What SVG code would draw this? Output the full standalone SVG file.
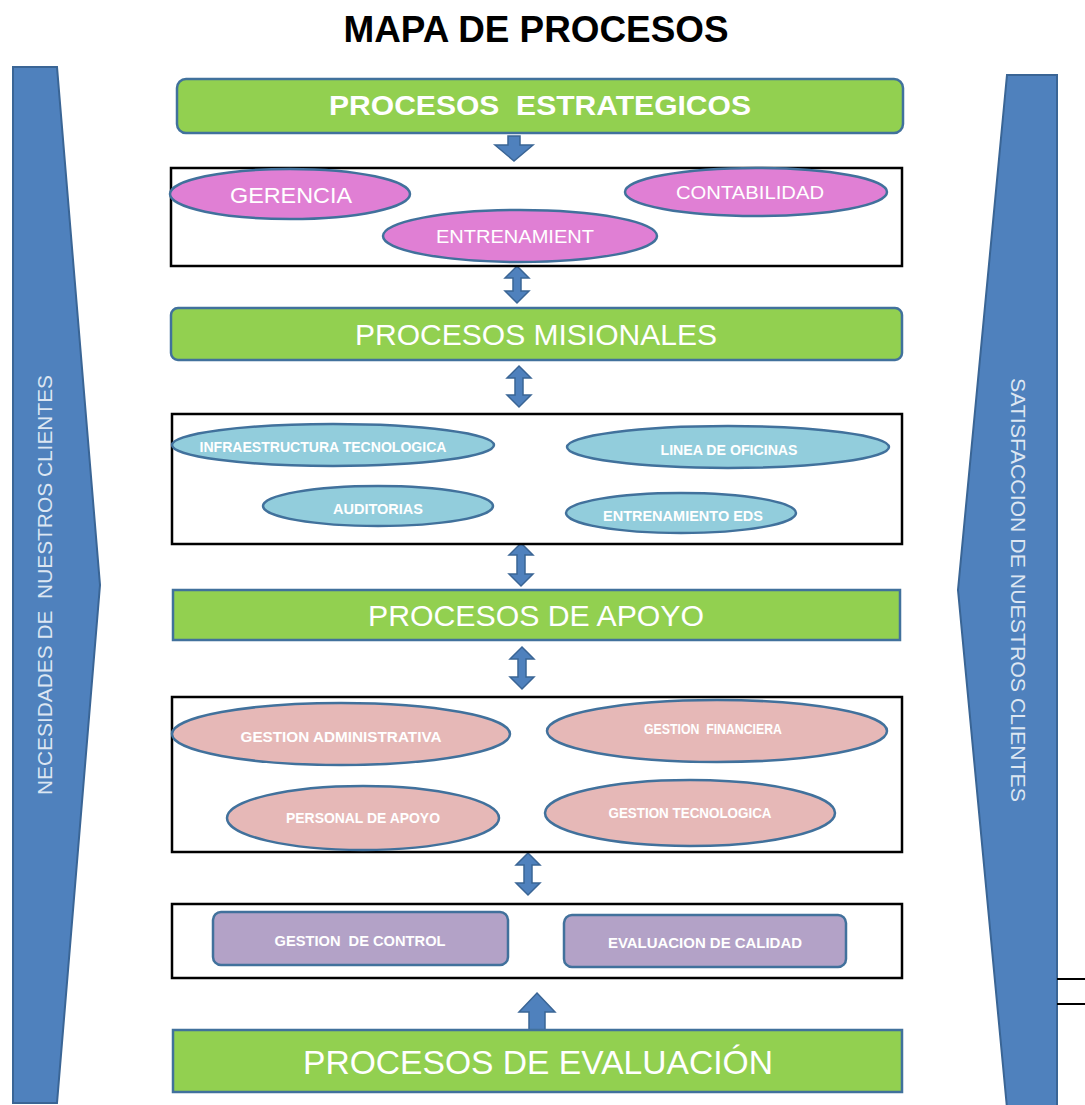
<svg xmlns="http://www.w3.org/2000/svg" width="1085" height="1105" viewBox="0 0 1085 1105">
<style>
.side{fill:#4f81bd;stroke:#3a6595;stroke-width:2}
.bar{fill:#92d050;stroke:#41719c;stroke-width:2.5}
.box{fill:#fff;stroke:#000;stroke-width:2.5}
.arr{fill:#4f81bd;stroke:#3a6595;stroke-width:1.5}
.pk{fill:#e07fd4;stroke:#41719c;stroke-width:2.5}
.bl{fill:#92cddc;stroke:#41719c;stroke-width:2.5}
.sa{fill:#e6b8b7;stroke:#41719c;stroke-width:2.5}
.pu{fill:#b3a2c7;stroke:#41719c;stroke-width:2.5}
text{white-space:pre}
.t{font-family:"Liberation Sans",Arial,sans-serif;fill:#fff;text-anchor:middle}
.n{font-family:"Liberation Sans",Arial,sans-serif;font-weight:bold;fill:#fff;text-anchor:middle;font-size:14px}
.st{font-family:"Liberation Sans",Arial,sans-serif;fill:#dce6f2;text-anchor:middle;font-size:21px}
</style>
<text x="536" y="42" font-family="Liberation Sans, Arial, sans-serif" font-weight="bold" font-size="37" text-anchor="middle" fill="#000" textLength="385" lengthAdjust="spacingAndGlyphs">MAPA DE PROCESOS</text>

<g id="left-side">
<polygon class="side" points="13,67 57,67 100,585 57,1103 13,1103"/>
<text class="st" transform="translate(45,585) rotate(-90)" y="7" textLength="420" lengthAdjust="spacingAndGlyphs" xml:space="preserve">NECESIDADES DE  NUESTROS CLIENTES</text>
</g>
<g id="right-side">
<polygon class="side" points="1007,75 1057,75 1057,1108 1007,1108 958,590"/>
<text class="st" transform="translate(1018,590) rotate(90)" y="7" textLength="424" lengthAdjust="spacingAndGlyphs">SATISFACCION DE NUESTROS CLIENTES</text>
</g>
<g id="right-lines">
<line x1="1057" y1="979" x2="1085" y2="979" stroke="#000" stroke-width="2"/>
<line x1="1057" y1="1004" x2="1085" y2="1004" stroke="#000" stroke-width="2"/>
</g>

<g id="connectors">
<path class="arr" d="M508,136 H520 V145 H533 L514,161 L495,145 H508 Z"/>
<path class="arr" d="M517,266 L529,278 H521 V291 H529 L517,303 L505,291 H513 V278 H505 Z"/>
<path class="arr" d="M519,366 L531,378 H523 V395 H531 L519,407 L507,395 H515 V378 H507 Z"/>
<path class="arr" d="M521,543 L533,555 H525 V574 H533 L521,586 L509,574 H517 V555 H509 Z"/>
<path class="arr" d="M522,647 L534,659 H526 V677 H534 L522,689 L510,677 H518 V659 H510 Z"/>
<path class="arr" d="M528,853 L540,865 H532 V883 H540 L528,895 L516,883 H524 V865 H516 Z"/>
<path class="arr" d="M537,993 L555,1012 H545 V1030 H529 V1012 H519 Z"/>
</g>

<g id="estrategicos">
<rect class="bar" x="177" y="79" width="726" height="54" rx="9"/>
<text class="t" x="540" y="115" font-size="28" font-weight="bold" textLength="422" lengthAdjust="spacingAndGlyphs" xml:space="preserve">PROCESOS  ESTRATEGICOS</text>
</g>
<g id="box-estrategicos">
<rect class="box" x="171" y="168" width="731" height="98"/>
</g>
<g id="gerencia"><ellipse class="pk" cx="290" cy="194" rx="120" ry="25"/><text class="t" x="291" y="203" font-size="22" textLength="122" lengthAdjust="spacingAndGlyphs">GERENCIA</text></g>
<g id="contabilidad"><ellipse class="pk" cx="756" cy="192" rx="131" ry="24"/><text class="t" x="750" y="199" font-size="19" textLength="148" lengthAdjust="spacingAndGlyphs">CONTABILIDAD</text></g>
<g id="entrenamient"><ellipse class="pk" cx="520" cy="236" rx="137" ry="26"/><text class="t" x="515" y="243" font-size="19" textLength="158" lengthAdjust="spacingAndGlyphs">ENTRENAMIENT</text></g>

<g id="misionales">
<rect class="bar" x="171" y="308" width="731" height="52" rx="7"/>
<text class="t" x="536" y="345" font-size="30" textLength="362" lengthAdjust="spacingAndGlyphs">PROCESOS MISIONALES</text>
</g>
<g id="box-misionales"><rect class="box" x="172" y="414" width="730" height="130"/></g>
<g id="infraestructura"><ellipse class="bl" cx="333" cy="445" rx="161" ry="21"/><text class="n" x="323" y="452" textLength="247" lengthAdjust="spacingAndGlyphs">INFRAESTRUCTURA TECNOLOGICA</text></g>
<g id="linea"><ellipse class="bl" cx="728" cy="447" rx="161" ry="21"/><text class="n" x="729" y="455" textLength="137" lengthAdjust="spacingAndGlyphs">LINEA DE OFICINAS</text></g>
<g id="auditorias"><ellipse class="bl" cx="378" cy="506" rx="115" ry="20"/><text class="n" x="378" y="514" textLength="90" lengthAdjust="spacingAndGlyphs">AUDITORIAS</text></g>
<g id="entrenamiento-eds"><ellipse class="bl" cx="681" cy="513" rx="115" ry="20"/><text class="n" x="683" y="521" textLength="160" lengthAdjust="spacingAndGlyphs">ENTRENAMIENTO EDS</text></g>

<g id="apoyo">
<rect class="bar" x="173" y="590" width="727" height="50"/>
<text class="t" x="536" y="626" font-size="30" textLength="336" lengthAdjust="spacingAndGlyphs">PROCESOS DE APOYO</text>
</g>
<g id="box-apoyo"><rect class="box" x="172" y="697" width="730" height="155"/></g>
<g id="gestion-admin"><ellipse class="sa" cx="341" cy="734" rx="169" ry="31"/><text class="n" x="341" y="742" textLength="201" lengthAdjust="spacingAndGlyphs">GESTION ADMINISTRATIVA</text></g>
<g id="gestion-fin"><ellipse class="sa" cx="717" cy="731" rx="170" ry="31"/><text class="n" x="713" y="734" textLength="138" lengthAdjust="spacingAndGlyphs" xml:space="preserve">GESTION  FINANCIERA</text></g>
<g id="personal"><ellipse class="sa" cx="363" cy="818" rx="136" ry="32"/><text class="n" x="363" y="823" textLength="154" lengthAdjust="spacingAndGlyphs">PERSONAL DE APOYO</text></g>
<g id="gestion-tec"><ellipse class="sa" cx="690" cy="813" rx="145" ry="33"/><text class="n" x="690" y="818" textLength="163" lengthAdjust="spacingAndGlyphs">GESTION TECNOLOGICA</text></g>

<g id="box-evaluacion"><rect class="box" x="172" y="904" width="730" height="74"/></g>
<g id="gestion-control"><rect class="pu" x="213" y="912" width="295" height="53" rx="8"/><text class="n" x="360" y="946" textLength="171" lengthAdjust="spacingAndGlyphs" xml:space="preserve">GESTION  DE CONTROL</text></g>
<g id="evaluacion-calidad"><rect class="pu" x="564" y="915" width="282" height="52" rx="8"/><text class="n" x="705" y="948" textLength="194" lengthAdjust="spacingAndGlyphs">EVALUACION DE CALIDAD</text></g>

<g id="evaluacion">
<rect class="bar" x="173" y="1030" width="729" height="62"/>
<text class="t" x="538" y="1074" font-size="33" textLength="470" lengthAdjust="spacingAndGlyphs">PROCESOS DE EVALUACIÓN</text>
</g>
</svg>
